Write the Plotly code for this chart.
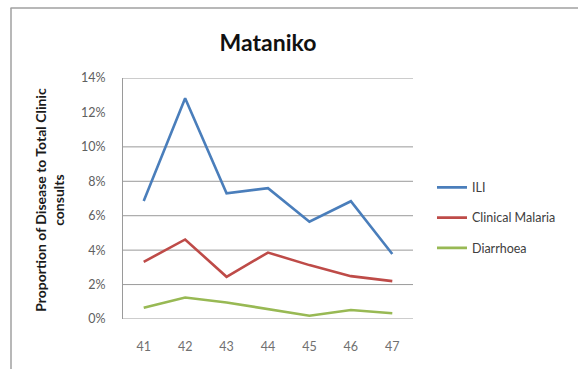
import plotly.graph_objects as go

# Epidemiological weeks and share of total clinic consults per syndrome
weeks = [41, 42, 43, 44, 45, 46, 47]
ili = [0.0686, 0.1282, 0.0730, 0.0760, 0.0565, 0.0684, 0.0378]
clinical_malaria = [0.0332, 0.0462, 0.0245, 0.0386, 0.0313, 0.0249, 0.0220]
diarrhoea = [0.0065, 0.0125, 0.0096, 0.0056, 0.0019, 0.0052, 0.0033]

series_names = ["ILI", "Clinical Malaria", "Diarrhoea"]
series_values = [ili, clinical_malaria, diarrhoea]
series_colors = ["#4a7ebb", "#be4b48", "#98b954"]

# Horizontal reference lines drawn across the plot area
grid_levels = [0.0, 0.02, 0.04, 0.06, 0.08, 0.10, 0.14]

fig = go.Figure()
for name, vals, col in zip(series_names, series_values, series_colors):
    fig.add_trace(go.Scatter(
        x=weeks, y=vals, mode="lines", name=name, legendgroup=name,
        line=dict(color=col, width=2.6),
    ))

for lv in grid_levels:
    fig.add_shape(type="line", xref="paper", yref="y", x0=0, x1=1, y0=lv, y1=lv,
                  line=dict(color="#9a9a9a", width=1), layer="below")

# Outer chart frame (top and left edges)
fig.add_shape(type="line", xref="paper", yref="paper", x0=-0.388, x1=1.6, y0=1.2905, y1=1.2905,
              line=dict(color="#a0a0a0", width=1.5))
fig.add_shape(type="line", xref="paper", yref="paper", x0=-0.3862, x1=-0.3862, y0=-0.25, y1=1.2905,
              line=dict(color="#a0a0a0", width=1.5))

fig.add_annotation(
    text="<b>Proportion of Disease to Total Clinic<br>consults</b>",
    xref="paper", yref="paper", x=-0.252, y=0.494, textangle=-90,
    showarrow=False, xanchor="center", yanchor="middle",
    font=dict(family="Lato, sans-serif", size=14, color="#1a1a1a"),
)

fig.update_layout(
    width=578, height=369,
    margin=dict(l=123, r=165, t=78, b=50),
    paper_bgcolor="white", plot_bgcolor="white",
    title=dict(text="<b>Mataniko</b>", xref="paper", x=0.5, xanchor="center",
               yref="container", y=1 - 43 / 369, yanchor="middle",
               font=dict(family="Lato, sans-serif", size=23, color="#111111")),
    xaxis=dict(range=[40.5, 47.5], tickvals=weeks, ticktext=[str(w) for w in weeks],
               showgrid=False, zeroline=False, showline=False, ticks="",
               ticklabelstandoff=18,
               tickfont=dict(family="Lato, sans-serif", size=12.5, color="#707070")),
    yaxis=dict(range=[0, 0.14], dtick=0.02, tickformat=".0%", showgrid=False,
               zeroline=False, showline=True, linecolor="#9a9a9a", linewidth=1,
               ticks="", ticklabelstandoff=14,
               tickfont=dict(family="Lato, sans-serif", size=12.5, color="#606060")),
    legend=dict(x=1.0655, xanchor="left", y=0.607, yanchor="top",
                tracegroupgap=11, bgcolor="rgba(0,0,0,0)",
                font=dict(family="Lato, sans-serif", size=12.5, color="#404040")),
    showlegend=True,
)

fig.write_html("out.html")
